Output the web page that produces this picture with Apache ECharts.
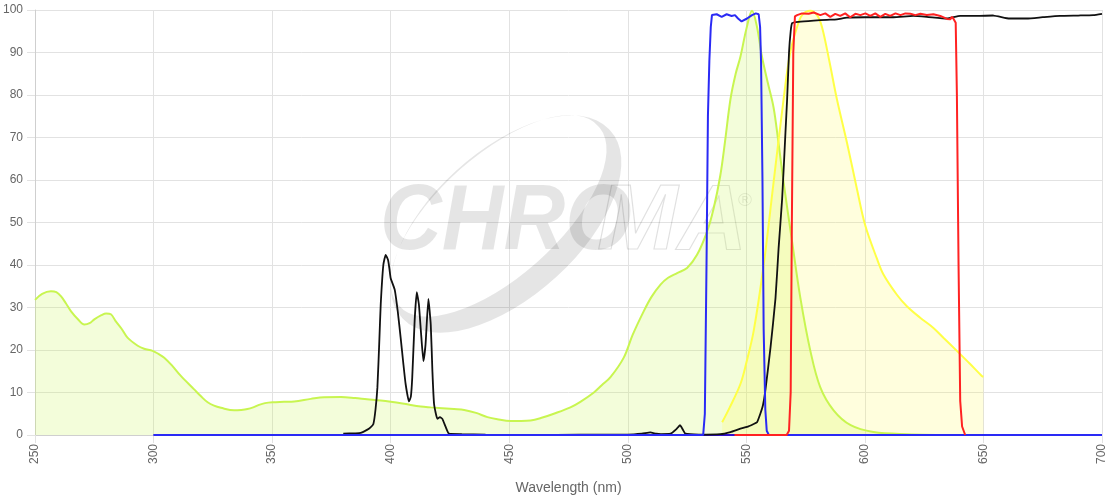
<!DOCTYPE html>
<html>
<head>
<meta charset="utf-8">
<script src="https://cdn.jsdelivr.net/npm/echarts@6/dist/echarts.min.js"></script>
<style>
html,body{margin:0;padding:0;background:#fff;}
#chart{width:1120px;height:500px;}
</style>
</head>
<body>
<div id="chart"></div>
<script>
// ---- Data (wavelength nm, value %) ----
var xTicks = [250, 300, 350, 400, 450, 500, 550, 600, 650, 700];
var yTicks = [0, 10, 20, 30, 40, 50, 60, 70, 80, 90, 100];
var xAxisTitle = 'Wavelength (nm)';

var excitationSpectrum = [
  [250,31.8],[253,33.2],[256.7,33.8],[259,33.6],[261,32.6],[263,31],[265.2,29.1],[268,27.3],[270.8,26],
  [273,26.3],[275,27.2],[278,28.2],[280,28.6],[282,28.4],[284,26.8],[286.5,25],[289,22.9],[293.3,21],
  [296,20.3],[299.6,19.8],[302,19.1],[304.5,18.2],[308,16.2],[311.5,13.9],[317,10.8],[320,9.1],
  [322.8,7.7],[325.5,6.9],[328.4,6.4],[334,5.8],[337,5.9],[339.6,6.1],[342,6.5],[344.5,7.1],[347,7.5],
  [350.2,7.7],[355,7.8],[359.3,7.9],[366.3,8.5],[371.9,8.9],[379,8.95],[385,8.7],[390,8.4],[395.8,8.1],
  [405,7.4],[412.7,6.7],[416.9,6.5],[426.7,6.1],[431,5.9],[436,5.2],[440.8,4.2],[445,3.7],[450.6,3.3],
  [455,3.3],[459,3.4],[464,4.1],[468.8,5],[475.8,6.5],[480,7.8],[485.7,10],[489,11.7],[492.7,13.6],
  [498.3,18.2],[502,23.5],[506.7,29.1],[510,32.5],[513.8,35.4],[517,37],[520.8,38.1],[525,39.3],
  [529.2,42.4],[533.4,47.8],[536.2,53.3],[539,61],[541,69],[543.3,79],[545.5,85],[547.5,89],[550,95.5],
  [552.4,99.8],[554.5,96],[556.6,89],[559,83],[561.5,77],[563.5,69],[565.7,59.5],[569.3,45.5],
  [572.8,32.2],[577,19.8],[581.2,11.2],[586.8,5.8],[594,2.3],[603.6,0.7],[617.7,0.2],[640,0]
];

var emissionSpectrum = [
  [539.8,3],[543,6.5],[547.5,12],[550,17],[553.1,24.5],[557.3,40],[561.5,59.5],[565.7,79],[568.5,90],
  [571.4,96],[573.5,98.8],[577,99.8],[579.8,98.8],[581.9,96],[585,88],[588.2,79],[592.4,68.9],
  [596.6,58],[600.1,49.4],[605,41.6],[607.9,37.7],[613.5,33],[617.7,30.3],[623.3,27.6],[628.9,25.2],
  [633.1,22.9],[638.8,19.8],[644.4,16.7],[649.3,13.9],[650,13.7]
];

var baselineSeries = [[300,0],[700,0]];

var dichroic = [
  [380,0.3],[385,0.4],[387.4,0.5],[390,1.2],[391.5,1.8],[392.7,2.6],[393.6,6],[394.4,11.2],[395.2,22],
  [395.8,30.7],[396.9,40],[397.9,42.4],[398.9,41.2],[399.5,39],[400,36.9],[401.7,34.2],[403,29],
  [404.2,22.9],[405.3,17],[406.3,12],[407.7,7.9],[408.5,9],[409.1,13.6],[410.1,26.8],[411,33.6],
  [411.9,30.7],[412.8,24],[413.8,17.4],[414.7,21.3],[415.9,32],[416.9,26],[417.6,15],[418.3,7.3],
  [419.7,3.8],[420.8,4.2],[421.8,3.8],[423.2,1.9],[424.6,0.3],[430,0.2],[440,0.1],[460,0],[480,0.1],
  [500,0.1],[506,0.3],[509.5,0.6],[512,0.3],[514,0.2],[518,0.3],[520.5,1.4],[522,2.3],[523.3,1.2],
  [524.3,0.3],[530,0.1],[539,0.2],[543.3,0.7],[547.5,1.5],[550.3,1.9],[553.1,2.6],[554.5,3],[555.9,5],
  [557,7],[558,10.4],[560.2,20.6],[562.3,32.2],[563.6,43.9],[565.1,55.6],[566.5,71.2],[567.2,79],
  [568,90],[568.7,95],[569.3,96.9],[572,97.2],[578.4,97.5],[584,97.7],[588.2,97.8],[592.4,98.2],
  [600,98.3],[606.5,98.3],[612,98.3],[620.4,98.6],[626.1,98.4],[634.6,98],[640.2,98.6],[647.3,98.6],
  [654.2,98.7],[661,98],[668.3,98],[675,98.3],[682.3,98.6],[690,98.7],[696.3,98.8],[700,99.1]
];

var excitationFilter = [
  [300,0],[531.8,0],[532.5,5],[533.2,40],[533.8,75],[534.4,88],[535,96],[535.5,98.8],[537.5,99],
  [539.6,98.4],[541.7,99],[543.8,98.6],[545.2,98.8],[546.5,98],[548,97.3],[550.3,98],[552.4,98.8],
  [554,99.2],[555.2,99],[555.8,96],[556.2,88],[556.8,60],[557.3,25],[558,6],[558.6,1],[559.5,0],[700,0]
];

var emissionFilter = [
  [545,0],[555,0],[567,0],[568,1],[568.7,10],[569.2,50],[569.8,90],[570.5,98.5],[571.4,98.8],
  [573.5,99.2],[576.3,99.1],[578.4,99.4],[581.2,98.8],[583.3,99.2],[585.4,98.4],[587.5,99.1],
  [589.6,98.6],[591.7,99.2],[593.8,98.3],[596,99.1],[598.1,98.8],[600.2,99.2],[602.3,98.6],
  [604.4,99.2],[606.5,98.4],[608.6,99.1],[610.7,98.6],[612.9,99.2],[615,98.8],[617.1,99.2],
  [619.2,99.1],[621.3,98.8],[623.4,99.1],[626.1,98.8],[628.9,99],[631.8,98.6],[634.6,97.9],[636,97.8],
  [636.7,98.4],[637.4,97.9],[638.3,97],[638.8,80],[639.5,40],[640.2,8],[641,2],[642.3,0]
];

var FONT = '"Liberation Sans", Arial, Helvetica, sans-serif';
var gridColor = '#e2e2e2';

// watermark ring (decorative logo, pixel-space)
var ringPath = 'M610 130.3 A140 72 -42 1 1 402 317.7 A140 72 -42 1 1 610 130.3 Z M598.2 126.2 A134 59 -42 1 0 399 305.4 A134 59 -42 1 0 598.2 126.2 Z';
var graphics = [];
try {
  echarts.graphic.registerShape('logoRing', echarts.graphic.extendPath(ringPath, {}));
  graphics.push({ type: 'logoRing', z: 1, silent: true, shape: {}, style: { fill: 'rgba(0,0,0,0.1)' } });
} catch (err) {}
graphics.push(
  {
    type: 'text', z: 1, silent: true, x: 380, y: 270, scaleX: 0.92, originX: 0, originY: 0,
    style: { text: 'CHRO', font: 'italic bold 93px ' + FONT, fill: 'rgba(0,0,0,0.1)', verticalAlign: 'bottom' }
  },
  {
    type: 'text', z: 1, silent: true, x: 597, y: 270, scaleX: 1.04, originX: 0, originY: 0,
    style: { text: 'MA', font: 'italic bold 93px ' + FONT, fill: 'rgba(0,0,0,0)', stroke: 'rgba(0,0,0,0.12)', lineWidth: 1.2, verticalAlign: 'bottom' }
  },
  {
    type: 'text', z: 1, silent: true, x: 738, y: 191,
    style: { text: '®', font: '19px ' + FONT, fill: 'rgba(0,0,0,0.1)' }
  }
);

var chart = echarts.init(document.getElementById('chart'), null, {renderer:'canvas'});

var option = {
  animation: false,
  backgroundColor: '#ffffff',
  textStyle: { fontFamily: FONT },
  grid: { left: 34, right: 18, top: 10, bottom: 62, containLabel: false },
  xAxis: {
    type: 'value',
    min: xTicks[0], max: xTicks[xTicks.length-1], interval: 50,
    name: xAxisTitle, nameLocation: 'middle', nameGap: 46,
    nameTextStyle: { color: '#666', fontSize: 14, fontFamily: FONT },
    axisLine: { show: true, onZero: false, lineStyle: { color: '#cfcfcf' } },
    axisTick: { show: true, length: 8, lineStyle: { color: gridColor } },
    axisLabel: { rotate: 90, color: '#666', fontSize: 12, margin: 9, fontFamily: FONT },
    splitLine: { show: true, lineStyle: { color: gridColor, width: 1 } }
  },
  yAxis: {
    type: 'value',
    min: yTicks[0], max: yTicks[yTicks.length-1], interval: 10,
    axisLine: { show: true, lineStyle: { color: '#cfcfcf' } },
    axisTick: { show: true, length: 8, lineStyle: { color: gridColor } },
    axisLabel: { color: '#666', fontSize: 12, margin: 12, fontFamily: FONT },
    splitLine: { show: true, lineStyle: { color: gridColor, width: 1 } }
  },
  graphic: graphics,
  series: [
    {
      name: 'Excitation', type: 'line', data: excitationSpectrum, showSymbol: false,
      smooth: 0.35,
      lineStyle: { color: 'rgb(200,245,80)', width: 2 },
      itemStyle: { color: 'rgb(200,245,80)' },
      areaStyle: { color: 'rgba(200,245,80,0.3)' }
    },
    {
      name: 'Emission', type: 'line', data: emissionSpectrum, showSymbol: false,
      smooth: 0.35,
      lineStyle: { color: 'rgb(255,255,70)', width: 2 },
      itemStyle: { color: 'rgb(255,255,70)' },
      areaStyle: { color: 'rgba(255,250,60,0.25)' }
    },
    {
      name: 'Baseline', type: 'line', data: baselineSeries, showSymbol: false,
      lineStyle: { color: '#3311cc', width: 2 }, itemStyle: { color: '#3311cc' }
    },
    {
      name: 'Dichroic', type: 'line', data: dichroic, showSymbol: false,
      smooth: 0.15,
      lineStyle: { color: '#111111', width: 1.8 }, itemStyle: { color: '#111111' }
    },
    {
      name: 'Excitation filter', type: 'line', data: excitationFilter, showSymbol: false,
      lineStyle: { color: '#2a2af5', width: 2 }, itemStyle: { color: '#2a2af5' }
    },
    {
      name: 'Emission filter', type: 'line', data: emissionFilter, showSymbol: false,
      lineStyle: { color: '#ff2222', width: 2 }, itemStyle: { color: '#ff2222' }
    }
  ]
};
chart.setOption(option);
</script>
</body>
</html>
